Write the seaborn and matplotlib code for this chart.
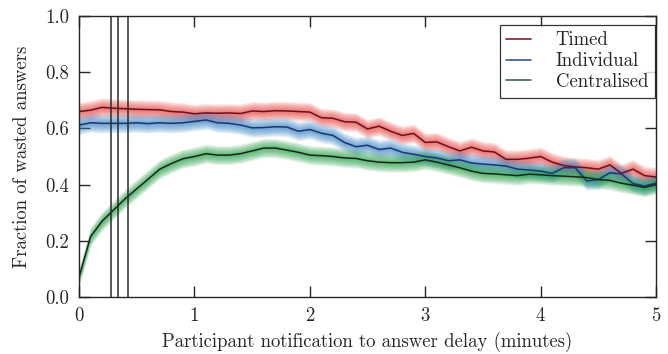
import numpy as np
import pandas as pd
import matplotlib
matplotlib.use("Agg")
import matplotlib.pyplot as plt
import seaborn as sns

# delay in minutes (shared grid)
delay = np.round(np.arange(0, 5.01, 0.1), 2)

timed = [0.660, 0.665, 0.675, 0.672, 0.670, 0.668, 0.667, 0.666, 0.660, 0.658,
         0.652, 0.655, 0.654, 0.655, 0.653, 0.662, 0.660, 0.663, 0.662, 0.660,
         0.658, 0.638, 0.636, 0.624, 0.622, 0.598, 0.608, 0.590, 0.575, 0.582,
         0.550, 0.552, 0.535, 0.520, 0.533, 0.520, 0.516, 0.490, 0.490, 0.494,
         0.500, 0.480, 0.468, 0.463, 0.460, 0.455, 0.470, 0.440, 0.455, 0.432,
         0.427]
individual = [0.612, 0.620, 0.618, 0.618, 0.618, 0.620, 0.617, 0.620, 0.618, 0.620,
              0.625, 0.630, 0.620, 0.618, 0.612, 0.602, 0.603, 0.606, 0.605, 0.590,
              0.596, 0.583, 0.575, 0.550, 0.535, 0.540, 0.525, 0.530, 0.515, 0.508,
              0.500, 0.495, 0.485, 0.488, 0.477, 0.473, 0.470, 0.466, 0.455, 0.452,
              0.448, 0.440, 0.460, 0.460, 0.413, 0.418, 0.442, 0.438, 0.404, 0.395,
              0.405]
centralised = [0.070, 0.215, 0.270, 0.310, 0.350, 0.385, 0.420, 0.455, 0.475, 0.492,
               0.500, 0.510, 0.505, 0.505, 0.510, 0.520, 0.530, 0.530, 0.523, 0.515,
               0.505, 0.503, 0.500, 0.495, 0.493, 0.485, 0.480, 0.478, 0.478, 0.480,
               0.488, 0.480, 0.470, 0.460, 0.448, 0.440, 0.438, 0.435, 0.432, 0.437,
               0.435, 0.432, 0.430, 0.428, 0.425, 0.418, 0.415, 0.405, 0.398, 0.390,
               0.400]

markers = [0.276, 0.342, 0.423]

series = {"Timed": timed, "Individual": individual, "Centralised": centralised}
line_colors = {"Timed": "#6e0f1f", "Individual": "#1c3670", "Centralised": "#16261b"}
band_colors = {"Timed": "#e8443f", "Individual": "#3a86c8", "Centralised": "#23a044"}
legend_colors = {"Timed": "#8a1a2c", "Individual": "#3a5896", "Centralised": "#3c6a4e"}

df = pd.concat([pd.DataFrame({"delay": delay, "frac": v, "kind": k})
                for k, v in series.items()], ignore_index=True)

sns.set_style("ticks")
plt.rcParams["font.family"] = "serif"
plt.rcParams["font.serif"] = ["cmr10", "DejaVu Serif"]
plt.rcParams["axes.formatter.use_mathtext"] = True
plt.rcParams["mathtext.fontset"] = "cm"

fs = 13.5
fig = plt.figure(figsize=(6.68, 3.54), dpi=100)
ax = fig.add_axes([0.1183, 0.161, 0.8638, 0.7938])

# soft gradient bands
for k, v in series.items():
    v = np.asarray(v)
    for i in range(10, 0, -1):
        w = 0.034 * i / 10
        ax.fill_between(delay, v - w, v + w, color=band_colors[k],
                        alpha=0.11, linewidth=0)

sns.lineplot(data=df, x="delay", y="frac", hue="kind", palette=line_colors,
             linewidth=1.1, ax=ax, legend=False)

for m in markers:
    ax.axvline(m, color="#2a2a2a", linewidth=1.1)

handles = [plt.Line2D([], [], color=legend_colors[k], linewidth=1.2) for k in series]
leg = ax.legend(handles, list(series.keys()), loc="upper right", fontsize=fs,
                frameon=True, fancybox=False, edgecolor="black",
                bbox_to_anchor=(0.998, 0.968), borderaxespad=0,
                borderpad=0.35, labelspacing=0.15,
                handlelength=1.35, handletextpad=1.3)
leg.get_frame().set_linewidth(0.9)

ax.set_xlim(0, 5)
ax.set_ylim(0, 1.0)
ax.set_xticks(range(6))
ax.set_yticks(np.arange(0, 1.01, 0.2))
ax.set_yticklabels([f"{t:.1f}" for t in np.arange(0, 1.01, 0.2)])
ax.tick_params(direction="in", length=8, width=1, top=True, right=True,
               labelsize=fs, pad=7)
for s in ax.spines.values():
    s.set_linewidth(1.0)
ax.set_xlabel("Participant notification to answer delay (minutes)", fontsize=fs,
              labelpad=5)
ax.set_ylabel("Fraction of wasted answers", fontsize=fs, labelpad=10)

fig.savefig("out.png", dpi=100)
